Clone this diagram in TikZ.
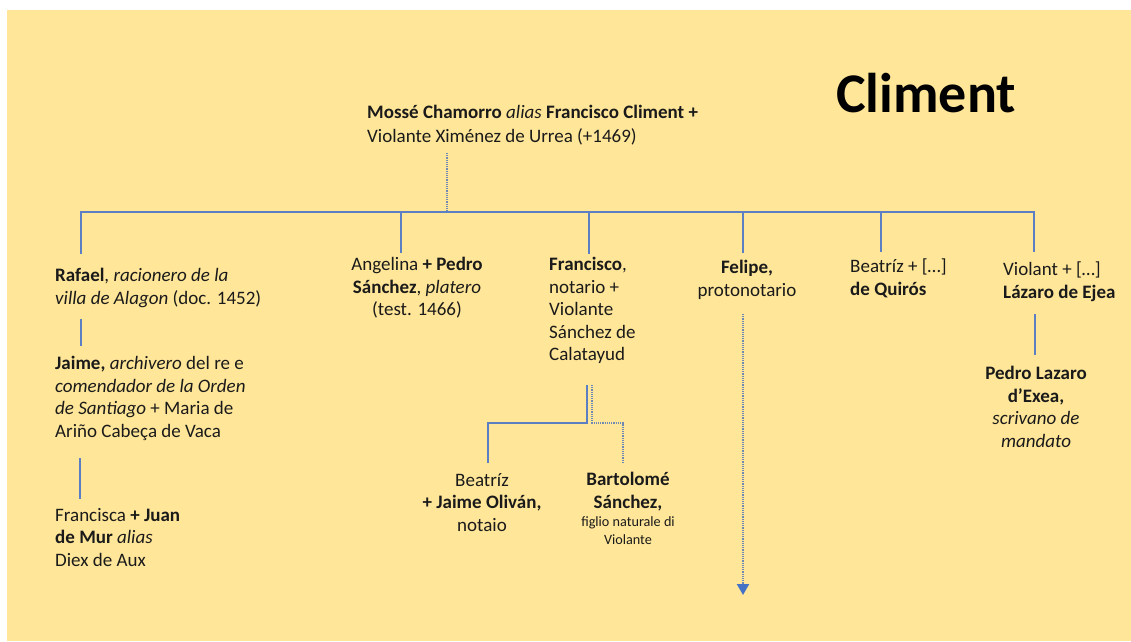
\documentclass[tikz,border=0pt]{standalone}
\usepackage{fontspec}
\setmainfont{Carlito}
\usetikzlibrary{arrows.meta}
\definecolor{sheet}{HTML}{FFE699}
\definecolor{link}{HTML}{5B7FC2}
\definecolor{dotlink}{HTML}{7088B4}
\definecolor{tipblue}{HTML}{4472C4}
\definecolor{ink}{HTML}{1A1A1A}

\begin{document}
\begin{tikzpicture}[x=1pt,y=-1pt,
  person/.style={inner sep=0pt, text=ink, font=\fontsize{19}{22.5}\selectfont,
    execute at begin node={\rule{0pt}{15pt}}},
  lft/.style={person, anchor=north west, align=left},
  ctr/.style={person, anchor=north, align=center},
  line/.style={draw=link, line width=2.2pt},
  dots/.style={draw=dotlink, line width=2pt, dash pattern=on 1.2pt off 1pt},
]
% page and sheet
\useasboundingbox (0,0) rectangle (1131,641);
\fill[white] (0,0) rectangle (1131,641);
\fill[sheet] (7,10) rectangle (1131,641);

% title
\node[inner sep=0pt, anchor=base west, font=\fontsize{56}{60}\selectfont\bfseries]
  (title) at (836,112) {Climent};

% people
\node[lft, font=\fontsize{19}{24}\selectfont] (root) at (367,105)
  {\textbf{Mossé Chamorro} \textit{alias} \textbf{Francisco Climent +}\\
   Violante Ximénez de Urrea (+1469)};

\node[lft] (rafael) at (55,268)
  {\textbf{Rafael}, \textit{racionero de la}\\ \textit{villa de Alagon} (doc. 1452)};
\node[lft] (jaime) at (55,356)
  {\textbf{Jaime,} \textit{archivero} del re e\\ \textit{comendador de la Orden}\\
   \textit{de Santiago} + Maria de\\ Ariño Cabeça de Vaca};
\node[lft] (francisca) at (55,508)
  {Francisca \textbf{+ Juan}\\ \textbf{de Mur} \textit{alias}\\ Diex de Aux};

\node[ctr] (angelina) at (417,257)
  {Angelina \textbf{+ Pedro}\\ \textbf{Sánchez}, \textit{platero}\\ (test. 1466)};
\node[lft] (francisco) at (549,257)
  {\textbf{Francisco},\\ notario +\\ Violante\\ Sánchez de\\ Calatayud};
\node[ctr] (beatrizO) at (482,473)
  {Beatríz\\ \textbf{+ Jaime Oliván,}\\ notaio};
\node[ctr] (bartolome) at (628,472)
  {\textbf{Bartolomé}\\ \textbf{Sánchez,}\\[-4pt]
   {\fontsize{14.2}{17}\selectfont figlio naturale di}\\[-5pt]
   {\fontsize{14.2}{17}\selectfont Violante}};
\node[ctr] (felipe) at (747,260)
  {\textbf{Felipe,}\\ protonotario};
\node[lft] (quiros) at (850,259)
  {Beatríz + […]\\ \textbf{de Quirós}};
\node[lft] (violant) at (1003,262)
  {Violant + […]\\ \textbf{Lázaro de Ejea}};
\node[ctr] (pedro) at (1036,366)
  {\textbf{Pedro Lazaro}\\ \textbf{d’Exea,}\\ \textit{scrivano de}\\ \textit{mandato}};

% connector ends
\coordinate (rootB) at (447,153);
\coordinate (bar)   at (447,212);
\coordinate (rafT)  at (81,254);
\coordinate (angT)  at (401,253);
\coordinate (fraT)  at (589,254);
\coordinate (felT)  at (743,253);
\coordinate (quiT)  at (881,252);
\coordinate (vioT)  at (1034,252);
\coordinate (rafB)  at (81,319);
\coordinate (jaiT)  at (81,346);
\coordinate (jaiB)  at (80,458);
\coordinate (fcaT)  at (80,499);
\coordinate (fraB)  at (587,385);
\coordinate (fraBd) at (592,385);
\coordinate (beaT)  at (488,463);
\coordinate (barT)  at (623,463);
\coordinate (felB)  at (743,314);
\coordinate (felE)  at (743,595);
\coordinate (vioB)  at (1035,314);
\coordinate (pedT)  at (1035,355);

% generation bar and drops
\draw[dots] (rootB) -- (bar);
\draw[line] (rafT) -- (rafT |- bar) -- (vioT |- bar) -- (vioT);
\draw[line] (angT |- bar) -- (angT);
\draw[line] (fraT |- bar) -- (fraT);
\draw[line] (felT |- bar) -- (felT);
\draw[line] (quiT |- bar) -- (quiT);

% descent lines
\draw[line] (rafB) -- (jaiT);
\draw[line] (jaiB) -- (fcaT);
\draw[line] (vioB) -- (pedT);
\draw[line] (fraB) -- (fraB |- 0,423) -- (beaT |- 0,423) -- (beaT);
\draw[dots] (fraBd) -- (fraBd |- 0,423) -- (barT |- 0,423) -- (barT);
\draw[dots, -{Triangle[width=12pt,length=11pt,color=tipblue]}] (felB) -- (felE);
\end{tikzpicture}
\end{document}
